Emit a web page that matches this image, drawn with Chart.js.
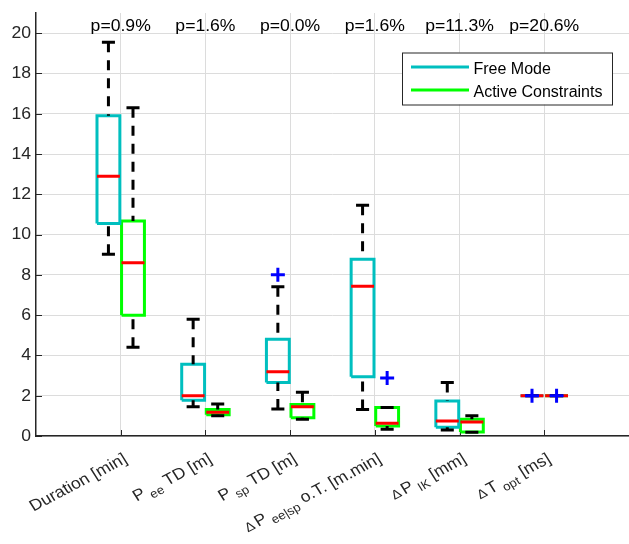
<!DOCTYPE html>
<html>
<head>
<meta charset="utf-8">
<script src="https://cdn.jsdelivr.net/npm/chart.js@4.4.1/dist/chart.umd.min.js"></script>
<style>
  html, body { margin: 0; padding: 0; background: #fff; }
  #wrap { width: 629px; height: 544px; }
</style>
</head>
<body>
<div id="wrap"><canvas id="boxChart" width="629" height="544"></canvas></div>
<script>
// categories (TeX-like, _{..} = subscript)
const categories = ['Duration [min]', 'P_{ee} TD [m]', 'P_{sp} TD [m]', '\\Delta P_{ee|sp} o.T. [m.min]', '\\Delta P_{IK} [mm]', '\\Delta T_{opt} [ms]'];
const pValues = ['p=0.9%', 'p=1.6%', 'p=0.0%', 'p=1.6%', 'p=11.3%', 'p=20.6%'];
const yTicks = [0, 2, 4, 6, 8, 10, 12, 14, 16, 18, 20];
const seriesNames = ['Free Mode', 'Active Constraints'];

// Free Mode box stats
const freeMax = [19.55, 5.8, 7.41, 11.46, 2.65, 2.0];
const freeQ3 = [15.9, 3.56, 4.8, 8.77, 1.74, 2.0];
const freeMed = [12.9, 2.0, 3.19, 7.44, 0.74, 2.0];
const freeQ1 = [10.55, 1.77, 2.65, 2.94, 0.43, 2.0];
const freeMin = [9.02, 1.45, 1.34, 1.32, 0.3, 2.0];
const freeOut = [[], [], [8.0], [], [], [2.0]];

// Active Constraints box stats
const activeMax = [16.3, 1.59, 2.17, 1.42, 1.01, 2.0];
const activeQ3 = [10.67, 1.32, 1.57, 1.42, 0.83, 2.0];
const activeMed = [8.6, 1.18, 1.45, 0.63, 0.69, 2.0];
const activeQ1 = [6.0, 1.05, 0.91, 0.5, 0.2, 2.0];
const activeMin = [4.4, 1.0, 0.83, 0.33, 0.18, 2.0];
const activeOut = [[], [], [], [2.88], [], [2.0]];

const pTextY = 20.1;

const FONT = '"Liberation Sans", Arial, Helvetica, sans-serif';
const boxColors = ['#00BFBF', '#00FF00'];
const offsets = [-0.145, 0.145];
const boxHalf = 0.135;
const capHalf = 0.077;
const stretch = 1.1; // the original text is a little wider than Arial

const stats = [
    { max: freeMax, q3: freeQ3, med: freeMed, q1: freeQ1, min: freeMin, out: freeOut },
    { max: activeMax, q3: activeQ3, med: activeMed, q1: activeQ1, min: activeMin, out: activeOut }
];

function buildSeries(s, k) {
    const box = [], med = [], whisk = [], caps = [], out = [];
    categories.forEach((_, i) => {
        const x = i + 1 + offsets[k];
        box.push({ x: x - boxHalf, y: s.q1[i] }, { x: x + boxHalf, y: s.q1[i] },
                 { x: x + boxHalf, y: s.q3[i] }, { x: x - boxHalf, y: s.q3[i] },
                 { x: x - boxHalf, y: s.q1[i] }, { x: x, y: null });
        med.push({ x: x - boxHalf, y: s.med[i] }, { x: x + boxHalf, y: s.med[i] }, { x: x, y: null });
        // whiskers drawn from the end towards the box so the dash starts at the cap
        if (s.max[i] > s.q3[i]) whisk.push({ x: x, y: s.max[i] }, { x: x, y: s.q3[i] }, { x: x, y: null });
        if (s.min[i] < s.q1[i]) whisk.push({ x: x, y: s.min[i] }, { x: x, y: s.q1[i] }, { x: x, y: null });
        caps.push({ x: x - capHalf, y: s.max[i] }, { x: x + capHalf, y: s.max[i] }, { x: x, y: null },
                  { x: x - capHalf, y: s.min[i] }, { x: x + capHalf, y: s.min[i] }, { x: x, y: null });
        s.out[i].forEach(v => out.push({ x: x, y: v }));
    });
    return [
        { type: 'line', label: seriesNames[k], data: box, borderColor: boxColors[k], borderWidth: 3, pointRadius: 0, spanGaps: false, order: 4 },
        { type: 'line', label: 'median', data: med, borderColor: '#FF0000', borderWidth: 3, pointRadius: 0, spanGaps: false, order: 3 },
        { type: 'line', label: 'whisker', data: whisk, borderColor: '#000000', borderWidth: 3, borderDash: [10, 8], pointRadius: 0, spanGaps: false, order: 2 },
        { type: 'line', label: 'cap', data: caps, borderColor: '#000000', borderWidth: 3, pointRadius: 0, spanGaps: false, order: 1 },
        { type: 'scatter', label: 'outlier', data: out, borderColor: '#0000FF', backgroundColor: '#0000FF', pointStyle: 'cross', pointRadius: 7, borderWidth: 3, showLine: false, order: 0 }
    ];
}

const datasets = stats.flatMap((s, k) => buildSeries(s, k));

function parseTex(str) {
    const parts = [];
    const re = /\\Delta\s?|_\{([^}]*)\}|[^_\\]+/g;
    let m;
    while ((m = re.exec(str)) !== null) {
        if (m[0].startsWith('\\Delta')) parts.push({ text: '\u0394', kind: 'sym' });
        else if (m[1] !== undefined) parts.push({ text: m[1], kind: 'sub' });
        else parts.push({ text: m[0], kind: 'main' });
    }
    return parts;
}

const texFonts = { main: '16px ' + FONT, sub: '12px ' + FONT, sym: '13px ' + FONT };
const texPad = { main: 0, sub: 3.5, sym: 2 };

function drawTex(ctx, str, x, y, angle) {
    const parts = parseTex(str);
    let total = 0;
    const widths = parts.map(p => {
        ctx.font = texFonts[p.kind];
        const w = ctx.measureText(p.text).width + texPad[p.kind];
        total += w;
        return w;
    });
    ctx.save();
    ctx.translate(x, y);
    ctx.scale(stretch, 1);
    ctx.rotate(angle);
    ctx.textAlign = 'left';
    ctx.textBaseline = 'alphabetic';
    let cx = -total;
    parts.forEach((p, i) => {
        ctx.font = texFonts[p.kind];
        const dy = p.kind === 'sub' ? 4.5 : 0;
        const dx = p.kind === 'sub' ? texPad.sub : 0;
        ctx.fillText(p.text, cx + dx, 12 + dy);
        cx += widths[i];
    });
    ctx.restore();
}

function wideText(ctx, text, x, y, align, baseline) {
    ctx.save();
    ctx.translate(x, y);
    ctx.scale(stretch, 1);
    ctx.textAlign = align;
    ctx.textBaseline = baseline;
    ctx.fillText(text, 0, 0);
    ctx.restore();
}

const decorPlugin = {
    id: 'decor',
    beforeDatasetsDraw(chart) {
        const { ctx, chartArea: a, scales: { x, y } } = chart;
        ctx.save();
        ctx.strokeStyle = '#262626';
        ctx.lineWidth = 1;
        // inner tick marks
        yTicks.forEach(v => {
            const py = Math.round(y.getPixelForValue(v)) + 0.5;
            ctx.beginPath(); ctx.moveTo(a.left, py); ctx.lineTo(a.left + 6, py); ctx.stroke();
        });
        categories.forEach((_, i) => {
            const px = Math.round(x.getPixelForValue(i + 1)) + 0.5;
            ctx.beginPath(); ctx.moveTo(px, a.bottom); ctx.lineTo(px, a.bottom - 6); ctx.stroke();
        });
        ctx.restore();
    },
    afterDraw(chart) {
        const { ctx, chartArea: a, scales: { x, y } } = chart;
        ctx.save();
        // y tick labels
        ctx.font = '16px ' + FONT;
        ctx.fillStyle = '#262626';
        yTicks.forEach(v => wideText(ctx, String(v), a.left - 5, y.getPixelForValue(v) + 0.5, 'right', 'middle'));

        // p-values
        ctx.fillStyle = '#000';
        pValues.forEach((t, i) => wideText(ctx, t, x.getPixelForValue(i + 1), y.getPixelForValue(pTextY), 'center', 'alphabetic'));

        // rotated category labels
        ctx.fillStyle = '#262626';
        categories.forEach((c, i) => drawTex(ctx, c, x.getPixelForValue(i + 1) + 1, a.bottom + 15.5, -Math.PI / 6));

        // legend
        const lw = 210, lh = 52;
        const lx = a.right - 227, ly = a.top + 39.5;
        ctx.fillStyle = '#fff';
        ctx.fillRect(lx, ly, lw, lh);
        ctx.strokeStyle = '#262626';
        ctx.lineWidth = 1;
        ctx.strokeRect(lx + 0.5, ly + 0.5, lw, lh);
        seriesNames.forEach((n, k) => {
            const ry = ly + 14.5 + k * 23;
            ctx.strokeStyle = boxColors[k];
            ctx.lineWidth = 3;
            ctx.beginPath(); ctx.moveTo(lx + 9, ry); ctx.lineTo(lx + 67, ry); ctx.stroke();
            ctx.fillStyle = '#000';
            ctx.font = '16px ' + FONT;
            ctx.textAlign = 'left';
            ctx.textBaseline = 'alphabetic';
            ctx.fillText(n, lx + 71.5, ry + 6.5);
        });
        ctx.restore();
    }
};

const ctx = document.getElementById('boxChart').getContext('2d');
const boxChart = new Chart(ctx, {
    type: 'line',
    data: { datasets: datasets },
    options: {
        responsive: false,
        animation: false,
        layout: { autoPadding: false, padding: { top: 13, right: 0, left: 0, bottom: 0 } },
        plugins: { legend: { display: false }, tooltip: { enabled: false } },
        scales: {
            x: {
                type: 'linear',
                min: 0,
                max: 7,
                afterBuildTicks: s => { s.ticks = categories.map((_, i) => ({ value: i + 1 })); },
                afterFit: s => { s.height = 108; },
                ticks: { display: false },
                grid: { color: '#dcdcdc', lineWidth: 1, drawTicks: false },
                border: { display: true, color: '#262626', width: 1.5 }
            },
            y: {
                type: 'linear',
                min: 0,
                max: 21,
                afterBuildTicks: s => { s.ticks = yTicks.map(v => ({ value: v })); },
                afterFit: s => { s.width = 36; },
                ticks: { display: false },
                grid: { color: '#dcdcdc', lineWidth: 1, drawTicks: false },
                border: { display: true, color: '#262626', width: 1.5 }
            }
        }
    },
    plugins: [decorPlugin]
});
</script>
</body>
</html>
